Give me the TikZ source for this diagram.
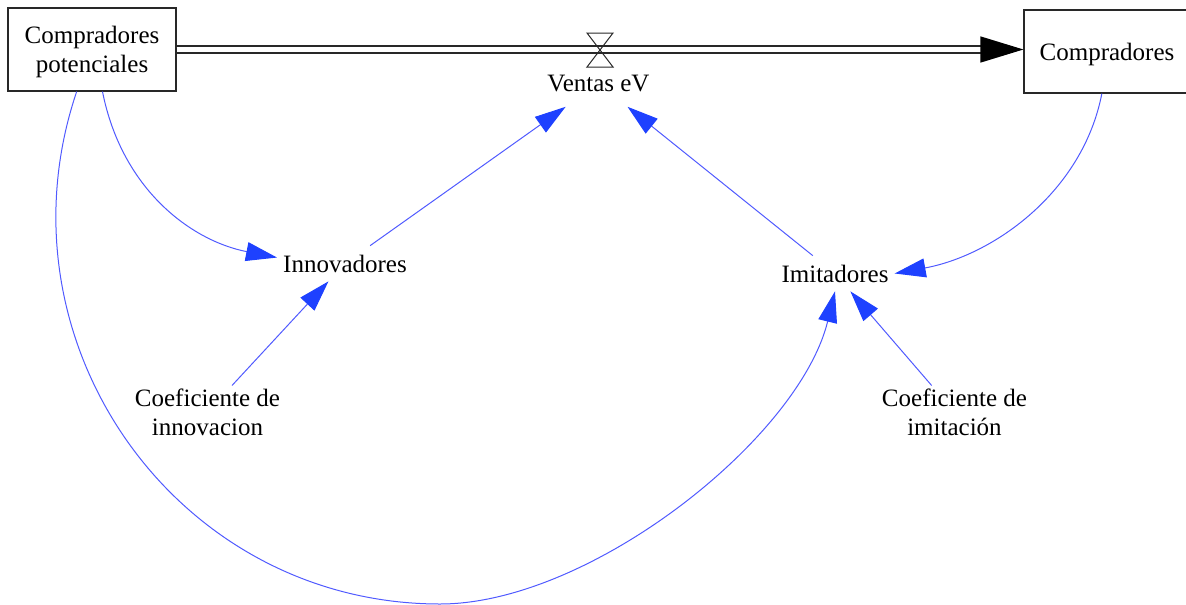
\documentclass[tikz,border=0pt]{standalone}
\usepackage{fontspec}
\setmainfont{Liberation Serif}
\usetikzlibrary{arrows.meta,calc}
\definecolor{linkblue}{RGB}{80,90,255}
\definecolor{tipblue}{RGB}{30,65,255}
\definecolor{boxgray}{RGB}{40,40,40}
\begin{document}
\begin{tikzpicture}[x=1pt,y=-1pt,
  every node/.style={font=\fontsize{25}{29}\selectfont, text=black},
  stock/.style={draw=boxgray, line width=1.2pt, minimum height=83pt, inner sep=0pt, align=center, text depth=0pt},
  var/.style={inner xsep=6pt, inner ysep=9pt, text depth=0pt},
  coef/.style={inner xsep=6pt, inner ysep=3pt, align=center, text depth=0pt},
  link/.style={draw=linkblue, line width=1pt, -{Triangle[length=31pt,width=19pt,color=tipblue]}},
  pipe/.style={draw=boxgray, line width=1.3pt, double=white, double distance=5.7pt, -{Triangle[length=43pt,width=26pt,color=black]}},
  valveline/.style={draw=boxgray, line width=1pt, line join=miter}
]
\path[use as bounding box] (0,0) rectangle (1186,605);

% stocks
\node[stock, minimum width=168pt] (cp) at (92,49.5) {Compradores\\potenciales};
\node[stock, minimum width=166pt] (comp) at (1107,51.5) {Compradores};

% flow pipe and valve
\draw[pipe] (cp.east) -- (cp.east -| comp.west);
\coordinate (valve) at (600,50);
\draw[valveline] ($(valve)+(-13,-17)$) -- ++(26,0) -- ++(-26,34) -- ++(26,0) -- cycle;

% variables
\node[var, inner ysep=15pt] (ventas) at (598.5,83.4) {Ventas eV};
\node[var] (innov) at (345,263.5) {Innovadores};
\node[var] (imit) at (835,273.5) {Imitadores};
\node[coef] (cinn) at (207.5,412) {Coeficiente de\\innovacion};
\node[coef] (cimi) at (954.5,412) {Coeficiente de\\imitación};

% links
\coordinate (bot) at (440,604);
\draw[link] (cp.-76) .. controls (122,190) and (191.8,240.9) .. (innov.175);
\draw[link] (cp.250) .. controls (-8,342) and (176,604) .. (bot)
                    .. controls (590,604) and (799,438.5) .. (imit.south);
\draw[link] (comp.-97) .. controls (1082.7,192.3) and (993,255.5) .. (imit.east);
\draw[link] (innov) -- (ventas);
\draw[link] (imit) -- (ventas);
\draw[link] (cinn) -- (innov);
\draw[link] (cimi) -- (imit);
\end{tikzpicture}
\end{document}
